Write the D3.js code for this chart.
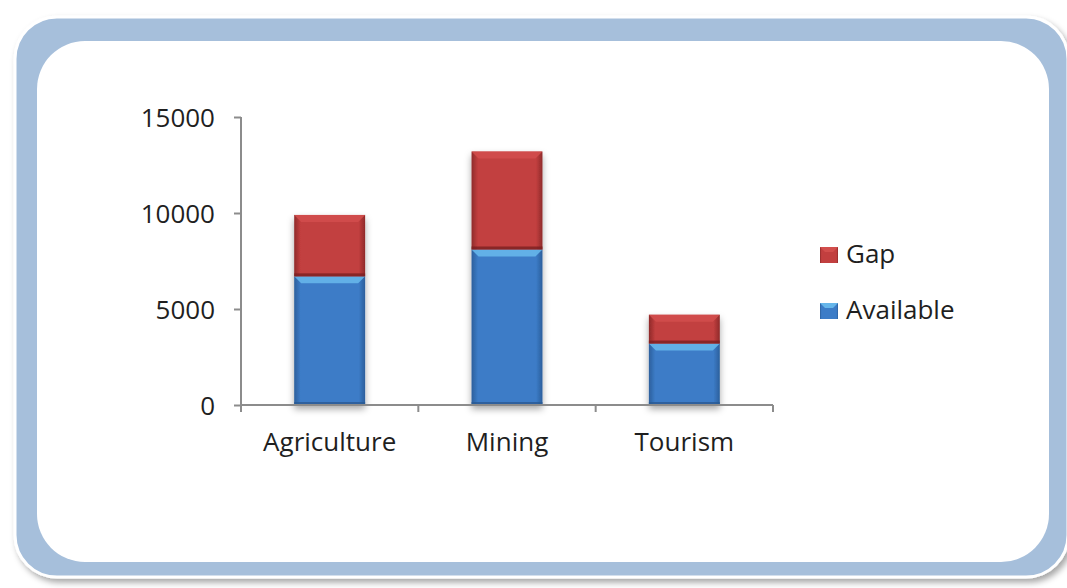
<!DOCTYPE html>
<html>
<head>
<meta charset="utf-8">
<script src="https://cdn.jsdelivr.net/npm/d3@7"></script>
<style>
  html, body { margin: 0; padding: 0; background: #ffffff; }
  svg { display: block; }
  text { font-family: "Open Sans", "DejaVu Sans", sans-serif; fill: #1f1f1f; }
</style>
</head>
<body>
<div id="chart"></div>
<script>
// Chart data
const categories = ['Agriculture', 'Mining', 'Tourism'];
const available = [6700, 8100, 3200];
const gap = [3200, 5100, 1500];
const yTicks = [0, 5000, 10000, 15000];
const seriesNames = ['Gap', 'Available'];

const W = 1067, H = 588;

const svg = d3.select('#chart').append('svg')
    .attr('width', W)
    .attr('height', H);

const defs = svg.append('defs');

// soft shadow for the frame and the bars
const frameShadow = defs.append('filter').attr('id', 'frameShadow')
    .attr('x', '-5%').attr('y', '-5%').attr('width', '110%').attr('height', '110%');
frameShadow.append('feDropShadow')
    .attr('dx', 3).attr('dy', 4).attr('stdDeviation', 3)
    .attr('flood-color', '#000').attr('flood-opacity', 0.35);

const barShadow = defs.append('filter').attr('id', 'barShadow')
    .attr('x', '-30%').attr('y', '-10%').attr('width', '160%').attr('height', '130%');
barShadow.append('feDropShadow')
    .attr('dx', 0).attr('dy', 4).attr('stdDeviation', 3.5)
    .attr('flood-color', '#000').attr('flood-opacity', 0.35);

// horizontal gradients give the bevelled look on the sides
function sideGradient(id, edge, mid) {
    const g = defs.append('linearGradient').attr('id', id)
        .attr('x1', '0%').attr('x2', '100%').attr('y1', '0%').attr('y2', '0%');
    g.append('stop').attr('offset', '0%').attr('stop-color', edge);
    g.append('stop').attr('offset', '9%').attr('stop-color', mid);
    g.append('stop').attr('offset', '91%').attr('stop-color', mid);
    g.append('stop').attr('offset', '100%').attr('stop-color', edge);
}
sideGradient('blueGrad', '#2c5f9c', '#3c7cc7');
sideGradient('redGrad', '#8f2a2a', '#c23f3f');

// frame: blue rounded border with white inner panel
svg.append('rect')
    .attr('x', 15).attr('y', 17)
    .attr('width', 1053).attr('height', 560)
    .attr('rx', 42)
    .attr('fill', '#a6bfdb')
    .attr('stroke', '#ffffff').attr('stroke-width', 3)
    .attr('filter', 'url(#frameShadow)');

svg.append('rect')
    .attr('x', 37).attr('y', 41)
    .attr('width', 1012).attr('height', 521)
    .attr('rx', 48)
    .attr('fill', '#ffffff');

// plot area
const plot = { left: 241, right: 773, top: 117, bottom: 405 };

const x = d3.scaleBand()
    .domain(categories)
    .range([plot.left, plot.right])
    .paddingInner(0.6)
    .paddingOuter(0.3);

const y = d3.scaleLinear()
    .domain([0, 15000])
    .range([plot.bottom, plot.top]);

const rows = categories.map((c, i) => ({
    cat: c,
    available: available[i],
    gap: gap[i]
}));

const stack = d3.stack().keys(['available', 'gap'])(rows);

const colorInfo = {
    available: { fill: 'url(#blueGrad)', bevel: '#66b6ea', bottom: '#2a5a94' },
    gap: { fill: 'url(#redGrad)', bevel: '#d24e4c', bottom: '#7a1f22' }
};

// bars, drawn per category so the shadow sits under the whole stack
const barG = svg.append('g');
rows.forEach((r, i) => {
    const g = barG.append('g').attr('filter', 'url(#barShadow)');
    stack.forEach(layer => {
        const d = layer[i];
        const key = layer.key;
        const bx = x(r.cat);
        const bw = x.bandwidth();
        const y0 = y(d[0]);
        const y1 = y(d[1]);
        const info = colorInfo[key];
        g.append('rect')
            .attr('x', bx).attr('y', y1)
            .attr('width', bw).attr('height', y0 - y1)
            .attr('fill', info.fill);
        // top bevel
        const bev = 7;
        g.append('path')
            .attr('d', `M${bx},${y1} L${bx + bw},${y1} L${bx + bw - bev},${y1 + bev} L${bx + bev},${y1 + bev} Z`)
            .attr('fill', info.bevel)
            .attr('opacity', 0.9);
        // darker bottom edge
        g.append('rect')
            .attr('x', bx).attr('y', y0 - 3)
            .attr('width', bw).attr('height', 3)
            .attr('fill', info.bottom)
            .attr('opacity', 0.8);
    });
});

// axes
const yAxis = d3.axisLeft(y).tickValues(yTicks).tickFormat(d3.format('d')).tickSize(7).tickPadding(19);
const yg = svg.append('g')
    .attr('transform', `translate(${plot.left},0)`)
    .call(yAxis);

const xAxis = d3.axisBottom(x).tickSize(0).tickPadding(38);
const xg = svg.append('g')
    .attr('transform', `translate(0,${plot.bottom})`)
    .call(xAxis);

// category boundary ticks below the x axis
const boundaries = d3.range(categories.length + 1).map(i => plot.left + i * (plot.right - plot.left) / categories.length);
xg.selectAll('.bound')
    .data(boundaries)
    .enter().append('line')
    .attr('class', 'bound')
    .attr('x1', d => d).attr('x2', d => d)
    .attr('y1', 0).attr('y2', 7)
    .attr('stroke', '#8c8c8c').attr('stroke-width', 2);

[yg, xg].forEach(g => {
    g.select('.domain').attr('stroke', '#8c8c8c').attr('stroke-width', 2);
    g.selectAll('.tick line').attr('stroke', '#8c8c8c').attr('stroke-width', 2);
    g.selectAll('.tick text')
        .attr('font-family', '"Open Sans", sans-serif')
        .attr('font-size', 26)
        .attr('fill', '#1a1a1a');
});
yg.select('.domain').attr('d', `M0,${plot.top}H0V${plot.bottom}`);
xg.select('.domain').attr('d', `M${plot.left},0H${plot.right}`);
yg.selectAll('.tick text').attr('dy', '0.36em');
xg.selectAll('.tick text').attr('dy', '0.3em');

// legend
const legendColors = { Gap: colorInfo.gap, Available: colorInfo.available };
const legend = svg.append('g').attr('transform', 'translate(820,247)');
seriesNames.forEach((name, i) => {
    const lg = legend.append('g').attr('transform', `translate(0,${i * 56})`);
    const info = legendColors[name];
    lg.append('rect')
        .attr('width', 18).attr('height', 16)
        .attr('fill', info.fill);
    lg.append('path')
        .attr('d', 'M0,0 L18,0 L13,5 L5,5 Z')
        .attr('fill', info.bevel);
    lg.append('text')
        .attr('x', 26).attr('y', 16)
        .attr('font-size', 26)
        .attr('fill', '#1a1a1a')
        .text(name);
});
</script>
</body>
</html>
